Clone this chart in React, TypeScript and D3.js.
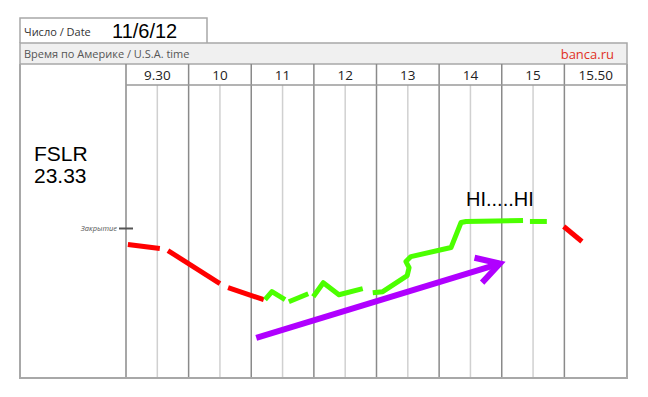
import React from "react";
import * as d3 from "d3";

// ---- data ----
const columnLabels = ["9.30", "10", "11", "12", "13", "14", "15", "15.50"];
const ticker = "FSLR";
const closePrice = 23.33;
const dateText = "11/6/12";
const annotationText = "HI.....HI";

// x in column units (0 = start of 9.30 column), y in price
const redSegments: [number, number][][] = [
  [[0.03, 23.255], [0.54, 23.235]],
  [[0.67, 23.225], [1.50, 23.06]],
  [[1.63, 23.04], [2.20, 22.98]],
  [[6.99, 23.345], [7.28, 23.27]],
];

const greenSegments: [number, number][][] = [
  [[2.22, 22.98], [2.33, 23.02], [2.54, 22.98]],
  [[2.60, 22.97], [2.91, 23.01]],
  [[2.99, 22.995], [3.15, 23.065], [3.40, 23.005], [3.78, 23.035]],
  [
    [3.94, 23.015], [4.10, 23.02], [4.49, 23.1], [4.52, 23.14], [4.47, 23.17],
    [4.55, 23.195], [5.19, 23.24], [5.35, 23.365], [5.43, 23.37], [6.34, 23.375],
  ],
  [[6.45, 23.37], [6.72, 23.37]],
];

const trendArrow: [number, number][] = [[2.08, 22.79], [5.97, 23.16]];

export default function App() {
  const W = 648, H = 397;
  const left = 20, right = 627, dateRight = 207;
  const dateTop = 18, bandTop = 43, bandBottom = 64, headerBottom = 85, bottom = 378;

  const x = d3.scaleLinear().domain([0, 8]).range([126, right]);
  const y = d3.scaleLinear().domain([22.59, 24.05]).range([bottom, headerBottom]);

  const line = d3.line<[number, number]>().x((d) => x(d[0])).y((d) => y(d[1]));

  const majors = d3.range(0, 8);
  const minors = d3.range(0, 7).map((i) => i + 0.5);

  // arrow
  const [a0, a1] = trendArrow;
  const x0 = x(a0[0]), y0 = y(a0[1]), x1 = x(a1[0]), y1 = y(a1[1]);
  const ang = Math.atan2(y1 - y0, x1 - x0);
  const headLen = 26, headAng = (30 * Math.PI) / 180;
  const hx1 = x1 - headLen * Math.cos(ang - headAng), hy1 = y1 - headLen * Math.sin(ang - headAng);
  const hx2 = x1 - headLen * Math.cos(ang + headAng), hy2 = y1 - headLen * Math.sin(ang + headAng);

  const sans = "'Open Sans', 'Noto Sans', sans-serif";
  const arial = "'Liberation Sans', Arial, sans-serif";

  return (
    <svg width={W} height={H} style={{ position: "absolute", left: 0, top: 0 }}>
      <rect x={0} y={0} width={W} height={H} fill="#fff" />
      {/* gray band */}
      <rect x={left} y={bandTop} width={right - left} height={bandBottom - bandTop} fill="#f0f0f0" stroke="#a8a8a8" strokeWidth={1.5} />
      {/* date box */}
      <path d={`M${left},${bandTop}V${dateTop}H${dateRight}V${bandTop}`} fill="none" stroke="#a8a8a8" strokeWidth={1.5} />
      {/* minor grid */}
      {minors.map((m) => (
        <line key={"mi" + m} x1={x(m)} x2={x(m)} y1={headerBottom} y2={bottom} stroke="#d0d0d0" strokeWidth={1.5} />
      ))}
      {/* major grid */}
      {majors.map((m) => (
        <line key={"ma" + m} x1={x(m)} x2={x(m)} y1={bandBottom} y2={bottom} stroke="#8a8a8a" strokeWidth={1.5} />
      ))}
      {/* header bottom */}
      <line x1={x(0)} x2={right} y1={headerBottom} y2={headerBottom} stroke="#9a9a9a" strokeWidth={1.5} />
      {/* outer frame */}
      <path d={`M${left},${bandBottom}V${bottom}H${right}V${bandBottom}`} fill="none" stroke="#a8a8a8" strokeWidth={2} />

      {/* header labels */}
      {columnLabels.map((lab, i) => (
        <text key={lab} x={x(i + 0.5)} y={80} textAnchor="middle" fontFamily={sans} fontSize={13.5} fill="#222">
          {lab}
        </text>
      ))}
      <text x={24} y={36} fontFamily={sans} fontSize={11} fill="#333">Число / Date</text>
      <text x={112} y={38} fontFamily={arial} fontSize={20} fill="#000">{dateText}</text>
      <text x={24} y={58} fontFamily={sans} fontSize={11} fill="#555">Время по Америке / U.S.A. time</text>
      <text x={614} y={59} textAnchor="end" fontFamily={sans} fontSize={13} fill="#e0301e">banca.ru</text>

      {/* ticker */}
      <text x={34} y={161} fontFamily={arial} fontSize={21} fill="#000">{ticker}</text>
      <text x={34} y={183} fontFamily={arial} fontSize={21} fill="#000">{d3.format(".2f")(closePrice)}</text>

      {/* close marker */}
      <text x={117} y={231} textAnchor="end" fontFamily={sans} fontStyle="italic" fontSize={7.5} fill="#555">Закрытие</text>
      <line x1={119} x2={133} y1={y(closePrice) - 1} y2={y(closePrice) - 1} stroke="#555" strokeWidth={2} />

      {/* red */}
      {redSegments.map((s, i) => (
        <path key={"r" + i} d={line(s) ?? ""} fill="none" stroke="#ff0000" strokeWidth={5} strokeLinejoin="miter" />
      ))}
      {/* green */}
      {greenSegments.map((s, i) => (
        <path key={"g" + i} d={line(s) ?? ""} fill="none" stroke="#4cff00" strokeWidth={5} strokeLinejoin="round" />
      ))}
      {/* purple arrow */}
      <line x1={x0} y1={y0} x2={x1} y2={y1} stroke="#b000ff" strokeWidth={6} />
      <path d={`M${hx1},${hy1}L${x1},${y1}L${hx2},${hy2}`} fill="none" stroke="#b000ff" strokeWidth={6} strokeLinejoin="miter" />

      <text x={466} y={206} fontFamily={arial} fontSize={20} fill="#000">{annotationText}</text>
    </svg>
  );
}
